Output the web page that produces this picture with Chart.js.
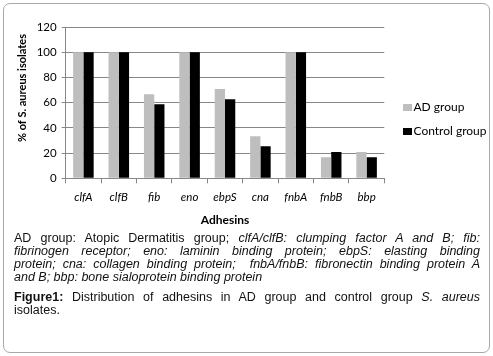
<!DOCTYPE html>
<html>
<head>
<meta charset="utf-8">
<script src="https://cdn.jsdelivr.net/npm/chart.js@4/dist/chart.umd.min.js"></script>
<style>
  html, body { margin: 0; padding: 0; background: #fff; }
  #frame { position: absolute; left: 3px; top: 3px; width: 485px; height: 348px;
           border: 1px solid #a8a8a8; border-radius: 7px; box-sizing: content-box; }
  #wrap { position: absolute; left: 0; top: 0; width: 493px; height: 232px; }
  #cap { position: absolute; left: 14px; top: 231.5px; width: 466px;
         font-family: "Liberation Sans", Arial, sans-serif; font-size: 12.5px; line-height: 13.3px; color: #111; }
  #cap .l { display: block; text-align: justify; text-align-last: justify; }
  #cap .last { text-align-last: left; }
  #cap i { font-style: italic; }
  #fig { margin-top: 6px; }
</style>
</head>
<body>
<div id="frame"></div>
<div id="wrap"><canvas id="c" width="493" height="232"></canvas></div>
<div id="cap">
  <div>
    <span class="l">AD group: Atopic Dermatitis group; <i>clfA/clfB: clumping factor A and B; fib:</i></span>
    <span class="l"><i>fibrinogen receptor; eno: laminin binding protein; ebpS: elasting binding</i></span>
    <span class="l"><i>protein; cna: collagen binding protein;&nbsp; fnbA/fnbB: fibronectin binding protein A</i></span>
    <span class="l last"><i>and B; bbp: bone sialoprotein binding protein</i></span>
  </div>
  <div id="fig">
    <span class="l"><b>Figure1:</b> Distribution of adhesins in AD group and control group <i>S. aureus</i></span>
    <span class="l last">isolates.</span>
  </div>
</div>
<script>
const categories = ["clfA", "clfB", "fib", "eno", "ebpS", "cna", "fnbA", "fnbB", "bbp"];
const adGroup = [100, 100, 66.7, 100, 70.8, 33.3, 100, 16.7, 20.8];
const controlGroup = [100, 100, 58.8, 100, 62.7, 25.5, 100, 20.8, 16.7];
const seriesNames = ["AD group", "Control group"];
const yTicks = [0, 20, 40, 60, 80, 100, 120];
const yTitle = "% of S. aureus isolates";
const xTitle = "Adhesins";

const GRID = '#878787';
const FONT = 'Lato, "Liberation Sans", sans-serif';

const customDecor = {
  id: 'customDecor',
  afterDraw(chart) {
    const ctx = chart.ctx;
    // y-axis title
    ctx.save();
    ctx.translate(22.5, 88);
    ctx.rotate(-Math.PI / 2);
    ctx.font = 'bold 11px ' + FONT;
    ctx.fillStyle = '#000';
    ctx.textAlign = 'center';
    ctx.textBaseline = 'middle';
    ctx.fillText(yTitle, 0, 0);
    ctx.restore();
    // legend
    const centers = [107.5, 131.5];
    ctx.save();
    ctx.font = '12px ' + FONT;
    ctx.textBaseline = 'middle';
    ctx.textAlign = 'left';
    chart.data.datasets.forEach((ds, i) => {
      ctx.fillStyle = ds.backgroundColor;
      ctx.fillRect(403, centers[i] - 3.5, 9, 7);
      ctx.fillStyle = '#000';
      ctx.fillText(ds.label, 413.5, centers[i]);
    });
    ctx.restore();
  }
};

new Chart(document.getElementById('c'), {
  type: 'bar',
  data: {
    labels: categories,
    datasets: [
      { label: seriesNames[0], data: adGroup, backgroundColor: '#bebebe' },
      { label: seriesNames[1], data: controlGroup, backgroundColor: '#000000' }
    ]
  },
  options: {
    responsive: false,
    animation: false,
    devicePixelRatio: 1,
    layout: { padding: { top: 27, right: 108.7, bottom: 0, left: 0 } },
    datasets: { bar: { categoryPercentage: 0.58, barPercentage: 1.0 } },
    plugins: { legend: { display: false }, tooltip: { enabled: false } },
    scales: {
      x: {
        offset: true,
        grid: { offset: true, drawOnChartArea: false, drawTicks: true, tickLength: 5, color: GRID },
        border: { display: true, color: GRID },
        ticks: { padding: 7, color: '#000', font: { family: FONT, size: 11.5, style: 'italic' } },
        title: { display: true, text: xTitle, color: '#000', padding: { top: 0, bottom: 5 }, font: { family: FONT, size: 12, weight: 'bold' } },
        afterFit(scale) { scale.height = 232 - 178.3; }
      },
      y: {
        min: 0, max: 120,
        afterBuildTicks(scale) { scale.ticks = yTicks.map(v => ({ value: v })); },
        grid: { color: GRID, drawTicks: true, tickLength: 4 },
        border: { display: true, color: GRID },
        ticks: { padding: 5, color: '#000', font: { family: FONT, size: 11.5 } },
        afterFit(scale) { scale.width = 65.7; }
      }
    }
  },
  plugins: [customDecor]
});
</script>
</body>
</html>
